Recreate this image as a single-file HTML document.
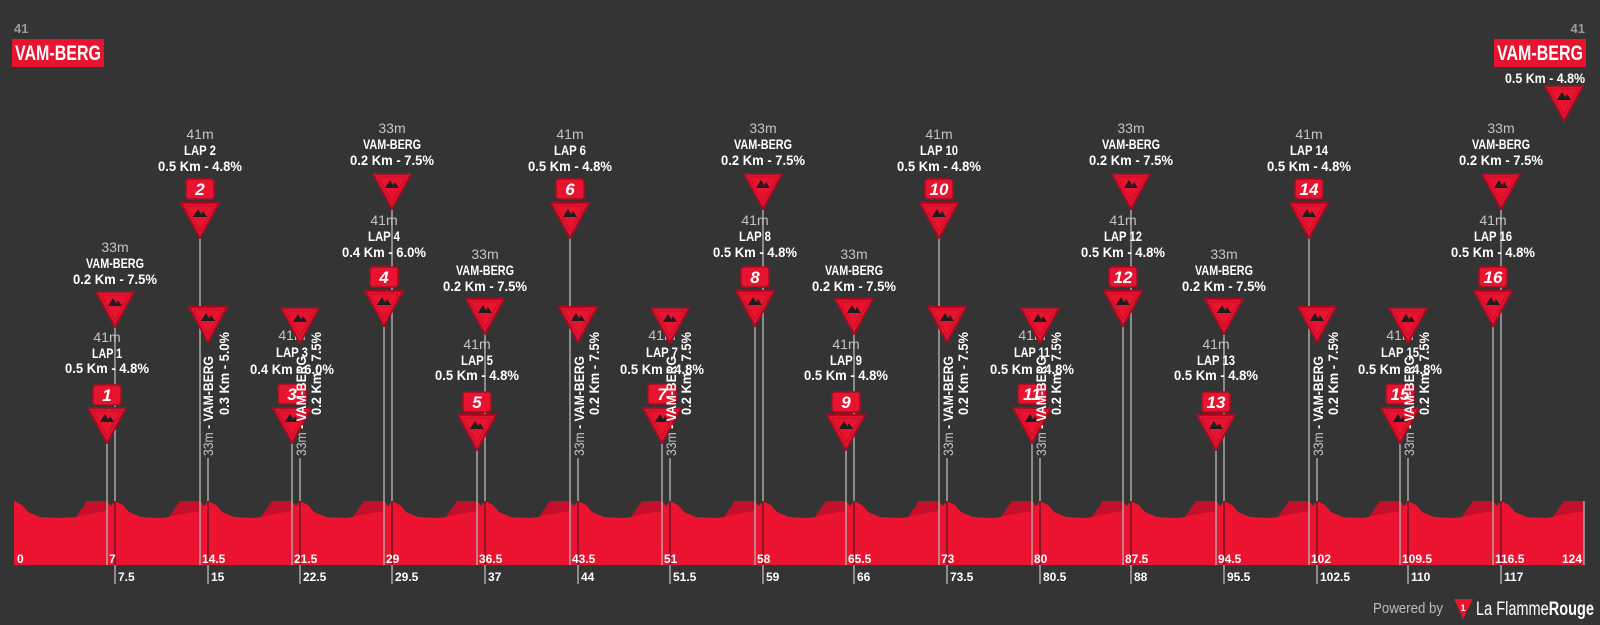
<!DOCTYPE html>
<html><head><meta charset="utf-8"><style>
html,body{margin:0;padding:0;background:#343434;width:1600px;height:625px;overflow:hidden}
svg{display:block}
text{font-family:"Liberation Sans Narrow","Liberation Sans",sans-serif}
.w{fill:#fff;font-weight:bold;font-size:14px;text-anchor:middle}
.g{fill:#c4c4c4;font-size:14px;text-anchor:middle}
.r{fill:#fff;font-weight:bold;font-size:14px}
.rg{fill:#c4c4c4;font-weight:normal;font-size:14px}
.n{fill:#fff;font-weight:bold;font-style:italic;font-size:17px;text-anchor:middle}
.k{fill:#fff;font-weight:bold;font-size:12px}
.ln{stroke:#a8a8a8;stroke-width:1.5}
</style></head><body>
<svg width="1600" height="625" viewBox="0 0 1600 625" xmlns="http://www.w3.org/2000/svg">
<defs>
<g id="m"><polygon points="-19,0 19,0 0,35" fill="#e8132f" stroke="#a80d22" stroke-width="2" stroke-linejoin="round"/><polygon points="-14,3 14,3 0,28" fill="none" stroke="#c40f28" stroke-width="1"/><polygon points="-7,14 -2,6 3,14" fill="#1e1e1e"/><polygon points="0,14 3,8 7,14" fill="#1e1e1e"/></g>
<g id="b"><rect x="-14" y="0" width="28" height="20" rx="3" fill="#e8132f" stroke="#a80d22" stroke-width="1.5"/></g>
</defs>

<g class="ln">
<line x1="115" y1="327" x2="115" y2="501"/><line x1="107" y1="443" x2="107" y2="501"/>
<line x1="200" y1="238" x2="200" y2="501"/><line x1="208" y1="458" x2="208" y2="501"/>
<line x1="292" y1="443" x2="292" y2="501"/><line x1="300" y1="458" x2="300" y2="501"/>
<line x1="392" y1="210" x2="392" y2="501"/><line x1="384" y1="327" x2="384" y2="501"/>
<line x1="485" y1="334" x2="485" y2="501"/><line x1="477" y1="450" x2="477" y2="501"/>
<line x1="570" y1="238" x2="570" y2="501"/><line x1="578" y1="458" x2="578" y2="501"/>
<line x1="662" y1="443" x2="662" y2="501"/><line x1="670" y1="458" x2="670" y2="501"/>
<line x1="763" y1="210" x2="763" y2="501"/><line x1="755" y1="327" x2="755" y2="501"/>
<line x1="854" y1="334" x2="854" y2="501"/><line x1="846" y1="450" x2="846" y2="501"/>
<line x1="939" y1="238" x2="939" y2="501"/><line x1="947" y1="458" x2="947" y2="501"/>
<line x1="1032" y1="443" x2="1032" y2="501"/><line x1="1040" y1="458" x2="1040" y2="501"/>
<line x1="1131" y1="210" x2="1131" y2="501"/><line x1="1123" y1="327" x2="1123" y2="501"/>
<line x1="1224" y1="334" x2="1224" y2="501"/><line x1="1216" y1="450" x2="1216" y2="501"/>
<line x1="1309" y1="238" x2="1309" y2="501"/><line x1="1317" y1="458" x2="1317" y2="501"/>
<line x1="1400" y1="443" x2="1400" y2="501"/><line x1="1408" y1="458" x2="1408" y2="501"/>
<line x1="1501" y1="210" x2="1501" y2="501"/><line x1="1493" y1="327" x2="1493" y2="501"/>
</g>

<path fill="#ec1330" d="M14,565 L14,501 22,505 28,512 40,517 59,518 76,517 87,501 107,501 111,506
115,501 123,505 129,512 141,517 160,518 169,517 180,501 200,501 204,506
208,501 216,505 222,512 234,517 253,518 261,517 272,501 292,501 296,506
300,501 308,505 314,512 326,517 345,518 353,517 364,501 384,501 388,506
392,501 400,505 406,512 418,517 437,518 446,517 457,501 477,501 481,506
485,501 493,505 499,512 511,517 530,518 539,517 550,501 570,501 574,506
578,501 586,505 592,512 604,517 623,518 631,517 642,501 662,501 666,506
670,501 678,505 684,512 696,517 715,518 724,517 735,501 755,501 759,506
763,501 771,505 777,512 789,517 808,518 815,517 826,501 846,501 850,506
854,501 862,505 868,512 880,517 899,518 908,517 919,501 939,501 943,506
947,501 955,505 961,512 973,517 992,518 1001,517 1012,501 1032,501 1036,506
1040,501 1048,505 1054,512 1066,517 1085,518 1092,517 1103,501 1123,501 1127,506
1131,501 1139,505 1145,512 1157,517 1176,518 1185,517 1196,501 1216,501 1220,506
1224,501 1232,505 1238,512 1250,517 1269,518 1278,517 1289,501 1309,501 1313,506
1317,501 1325,505 1331,512 1343,517 1362,518 1369,517 1380,501 1400,501 1404,506
1408,501 1416,505 1422,512 1434,517 1453,518 1462,517 1473,501 1493,501 1497,506
1501,501 1509,505 1515,512 1527,517 1546,518 1553,517 1564,501 1584,501 1584,565 Z"/>
<path fill="#c30f29" d="M76,517 87,501 107,501 107,511 83,515Z M169,517 180,501 200,501 200,511 176,515Z M261,517 272,501 292,501 292,511 268,515Z M353,517 364,501 384,501 384,511 360,515Z M446,517 457,501 477,501 477,511 453,515Z M539,517 550,501 570,501 570,511 546,515Z M631,517 642,501 662,501 662,511 638,515Z M724,517 735,501 755,501 755,511 731,515Z M815,517 826,501 846,501 846,511 822,515Z M908,517 919,501 939,501 939,511 915,515Z M1001,517 1012,501 1032,501 1032,511 1008,515Z M1092,517 1103,501 1123,501 1123,511 1099,515Z M1185,517 1196,501 1216,501 1216,511 1192,515Z M1278,517 1289,501 1309,501 1309,511 1285,515Z M1369,517 1380,501 1400,501 1400,511 1376,515Z M1462,517 1473,501 1493,501 1493,511 1469,515Z M1553,517 1564,501 1584,501 1584,511 1560,515Z"/>
<g stroke="#b9a3a6" stroke-width="1.5">
<line x1="107" y1="501" x2="107" y2="565"/><line x1="200" y1="501" x2="200" y2="565"/><line x1="292" y1="501" x2="292" y2="565"/><line x1="384" y1="501" x2="384" y2="565"/><line x1="477" y1="501" x2="477" y2="565"/><line x1="570" y1="501" x2="570" y2="565"/><line x1="662" y1="501" x2="662" y2="565"/><line x1="755" y1="501" x2="755" y2="565"/><line x1="846" y1="501" x2="846" y2="565"/><line x1="939" y1="501" x2="939" y2="565"/><line x1="1032" y1="501" x2="1032" y2="565"/><line x1="1123" y1="501" x2="1123" y2="565"/><line x1="1216" y1="501" x2="1216" y2="565"/><line x1="1309" y1="501" x2="1309" y2="565"/><line x1="1400" y1="501" x2="1400" y2="565"/><line x1="1493" y1="501" x2="1493" y2="565"/><line x1="1584" y1="501" x2="1584" y2="565"/>
</g>
<g stroke="#6e1522" stroke-width="1.5">
<line x1="115" y1="501" x2="115" y2="565"/><line x1="208" y1="501" x2="208" y2="565"/><line x1="300" y1="501" x2="300" y2="565"/><line x1="392" y1="501" x2="392" y2="565"/><line x1="485" y1="501" x2="485" y2="565"/><line x1="578" y1="501" x2="578" y2="565"/><line x1="670" y1="501" x2="670" y2="565"/><line x1="763" y1="501" x2="763" y2="565"/><line x1="854" y1="501" x2="854" y2="565"/><line x1="947" y1="501" x2="947" y2="565"/><line x1="1040" y1="501" x2="1040" y2="565"/><line x1="1131" y1="501" x2="1131" y2="565"/><line x1="1224" y1="501" x2="1224" y2="565"/><line x1="1317" y1="501" x2="1317" y2="565"/><line x1="1408" y1="501" x2="1408" y2="565"/><line x1="1501" y1="501" x2="1501" y2="565"/>
</g>
<g stroke="#a8a8a8" stroke-width="1.5">
<line x1="115" y1="565" x2="115" y2="584"/><line x1="208" y1="565" x2="208" y2="584"/><line x1="300" y1="565" x2="300" y2="584"/><line x1="392" y1="565" x2="392" y2="584"/><line x1="485" y1="565" x2="485" y2="584"/><line x1="578" y1="565" x2="578" y2="584"/><line x1="670" y1="565" x2="670" y2="584"/><line x1="763" y1="565" x2="763" y2="584"/><line x1="854" y1="565" x2="854" y2="584"/><line x1="947" y1="565" x2="947" y2="584"/><line x1="1040" y1="565" x2="1040" y2="584"/><line x1="1131" y1="565" x2="1131" y2="584"/><line x1="1224" y1="565" x2="1224" y2="584"/><line x1="1317" y1="565" x2="1317" y2="584"/><line x1="1408" y1="565" x2="1408" y2="584"/><line x1="1501" y1="565" x2="1501" y2="584"/>
</g>

<g class="k">
<text x="17" y="563">0</text><text x="109" y="563">7</text><text x="202" y="563">14.5</text><text x="294" y="563">21.5</text><text x="386" y="563">29</text><text x="479" y="563">36.5</text><text x="572" y="563">43.5</text><text x="664" y="563">51</text><text x="757" y="563">58</text><text x="848" y="563">65.5</text><text x="941" y="563">73</text><text x="1034" y="563">80</text><text x="1125" y="563">87.5</text><text x="1218" y="563">94.5</text><text x="1311" y="563">102</text><text x="1402" y="563">109.5</text><text x="1495" y="563">116.5</text><text x="1582" y="563" text-anchor="end">124</text>
<text x="118" y="581">7.5</text><text x="211" y="581">15</text><text x="303" y="581">22.5</text><text x="395" y="581">29.5</text><text x="488" y="581">37</text><text x="581" y="581">44</text><text x="673" y="581">51.5</text><text x="766" y="581">59</text><text x="857" y="581">66</text><text x="950" y="581">73.5</text><text x="1043" y="581">80.5</text><text x="1134" y="581">88</text><text x="1227" y="581">95.5</text><text x="1320" y="581">102.5</text><text x="1411" y="581">110</text><text x="1504" y="581">117</text>
</g>

<!-- Lap 1 -->
<text class="g" x="115" y="252">33m</text><text class="w" x="115" y="268" textLength="58" lengthAdjust="spacingAndGlyphs">VAM-BERG</text><text class="w" x="115" y="284" textLength="84" lengthAdjust="spacingAndGlyphs">0.2 Km - 7.5%</text><use href="#m" x="115" y="292"/>
<text class="g" x="107" y="342">41m</text><text class="w" x="107" y="358" textLength="30" lengthAdjust="spacingAndGlyphs">LAP 1</text><text class="w" x="107" y="373" textLength="84" lengthAdjust="spacingAndGlyphs">0.5 Km - 4.8%</text><use href="#b" x="107" y="385"/><text class="n" x="107" y="401">1</text><use href="#m" x="107" y="408"/>

<!-- Lap 2 -->
<text class="g" x="200" y="139">41m</text><text class="w" x="200" y="155" textLength="32" lengthAdjust="spacingAndGlyphs">LAP 2</text><text class="w" x="200" y="171" textLength="84" lengthAdjust="spacingAndGlyphs">0.5 Km - 4.8%</text><use href="#b" x="200" y="179"/><text class="n" x="200" y="195">2</text><use href="#m" x="200" y="203"/>
<use href="#m" x="208" y="307"/>
<text class="r" transform="translate(213,456) rotate(-90)" textLength="100" lengthAdjust="spacingAndGlyphs"><tspan class="rg">33m</tspan> - VAM-BERG</text>
<text class="r" transform="translate(229,332) rotate(-90)" text-anchor="end" textLength="83" lengthAdjust="spacingAndGlyphs">0.3 Km - 5.0%</text>

<!-- Lap 3 -->
<text class="g" x="292" y="340">41m</text><text class="w" x="292" y="357" textLength="32" lengthAdjust="spacingAndGlyphs">LAP 3</text><text class="w" x="292" y="374" textLength="84" lengthAdjust="spacingAndGlyphs">0.4 Km - 6.0%</text><use href="#b" x="292" y="384"/><text class="n" x="292" y="400">3</text><use href="#m" x="292" y="408"/>
<use href="#m" x="300" y="308"/>
<text class="r" transform="translate(306,456) rotate(-90)" textLength="100" lengthAdjust="spacingAndGlyphs"><tspan class="rg">33m</tspan> - VAM-BERG</text>
<text class="r" transform="translate(321,332) rotate(-90)" text-anchor="end" textLength="83" lengthAdjust="spacingAndGlyphs">0.2 Km - 7.5%</text>

<!-- Lap 4 -->
<text class="g" x="392" y="133">33m</text><text class="w" x="392" y="149" textLength="58" lengthAdjust="spacingAndGlyphs">VAM-BERG</text><text class="w" x="392" y="165" textLength="84" lengthAdjust="spacingAndGlyphs">0.2 Km - 7.5%</text><use href="#m" x="392" y="174"/>
<text class="g" x="384" y="225">41m</text><text class="w" x="384" y="241" textLength="32" lengthAdjust="spacingAndGlyphs">LAP 4</text><text class="w" x="384" y="257" textLength="84" lengthAdjust="spacingAndGlyphs">0.4 Km - 6.0%</text><use href="#b" x="384" y="267"/><text class="n" x="384" y="283">4</text><use href="#m" x="384" y="291"/>

<!-- Lap 5 -->
<text class="g" x="485" y="259">33m</text><text class="w" x="485" y="275" textLength="58" lengthAdjust="spacingAndGlyphs">VAM-BERG</text><text class="w" x="485" y="291" textLength="84" lengthAdjust="spacingAndGlyphs">0.2 Km - 7.5%</text><use href="#m" x="485" y="299"/>
<text class="g" x="477" y="349">41m</text><text class="w" x="477" y="365" textLength="32" lengthAdjust="spacingAndGlyphs">LAP 5</text><text class="w" x="477" y="380" textLength="84" lengthAdjust="spacingAndGlyphs">0.5 Km - 4.8%</text><use href="#b" x="477" y="392"/><text class="n" x="477" y="408">5</text><use href="#m" x="477" y="415"/>

<!-- Lap 6 -->
<text class="g" x="570" y="139">41m</text><text class="w" x="570" y="155" textLength="32" lengthAdjust="spacingAndGlyphs">LAP 6</text><text class="w" x="570" y="171" textLength="84" lengthAdjust="spacingAndGlyphs">0.5 Km - 4.8%</text><use href="#b" x="570" y="179"/><text class="n" x="570" y="195">6</text><use href="#m" x="570" y="203"/>
<use href="#m" x="578" y="307"/>
<text class="r" transform="translate(584,456) rotate(-90)" textLength="100" lengthAdjust="spacingAndGlyphs"><tspan class="rg">33m</tspan> - VAM-BERG</text>
<text class="r" transform="translate(599,332) rotate(-90)" text-anchor="end" textLength="83" lengthAdjust="spacingAndGlyphs">0.2 Km - 7.5%</text>

<!-- Lap 7 -->
<text class="g" x="662" y="340">41m</text><text class="w" x="662" y="357" textLength="32" lengthAdjust="spacingAndGlyphs">LAP 7</text><text class="w" x="662" y="374" textLength="84" lengthAdjust="spacingAndGlyphs">0.5 Km - 4.8%</text><use href="#b" x="662" y="384"/><text class="n" x="662" y="400">7</text><use href="#m" x="662" y="408"/>
<use href="#m" x="670" y="308"/>
<text class="r" transform="translate(676,456) rotate(-90)" textLength="100" lengthAdjust="spacingAndGlyphs"><tspan class="rg">33m</tspan> - VAM-BERG</text>
<text class="r" transform="translate(691,332) rotate(-90)" text-anchor="end" textLength="83" lengthAdjust="spacingAndGlyphs">0.2 Km - 7.5%</text>

<!-- Lap 8 -->
<text class="g" x="763" y="133">33m</text><text class="w" x="763" y="149" textLength="58" lengthAdjust="spacingAndGlyphs">VAM-BERG</text><text class="w" x="763" y="165" textLength="84" lengthAdjust="spacingAndGlyphs">0.2 Km - 7.5%</text><use href="#m" x="763" y="174"/>
<text class="g" x="755" y="225">41m</text><text class="w" x="755" y="241" textLength="32" lengthAdjust="spacingAndGlyphs">LAP 8</text><text class="w" x="755" y="257" textLength="84" lengthAdjust="spacingAndGlyphs">0.5 Km - 4.8%</text><use href="#b" x="755" y="267"/><text class="n" x="755" y="283">8</text><use href="#m" x="755" y="291"/>

<!-- Lap 9 -->
<text class="g" x="854" y="259">33m</text><text class="w" x="854" y="275" textLength="58" lengthAdjust="spacingAndGlyphs">VAM-BERG</text><text class="w" x="854" y="291" textLength="84" lengthAdjust="spacingAndGlyphs">0.2 Km - 7.5%</text><use href="#m" x="854" y="299"/>
<text class="g" x="846" y="349">41m</text><text class="w" x="846" y="365" textLength="32" lengthAdjust="spacingAndGlyphs">LAP 9</text><text class="w" x="846" y="380" textLength="84" lengthAdjust="spacingAndGlyphs">0.5 Km - 4.8%</text><use href="#b" x="846" y="392"/><text class="n" x="846" y="408">9</text><use href="#m" x="846" y="415"/>

<!-- Lap 10 -->
<text class="g" x="939" y="139">41m</text><text class="w" x="939" y="155" textLength="38" lengthAdjust="spacingAndGlyphs">LAP 10</text><text class="w" x="939" y="171" textLength="84" lengthAdjust="spacingAndGlyphs">0.5 Km - 4.8%</text><use href="#b" x="939" y="179"/><text class="n" x="939" y="195">10</text><use href="#m" x="939" y="203"/>
<use href="#m" x="947" y="307"/>
<text class="r" transform="translate(953,456) rotate(-90)" textLength="100" lengthAdjust="spacingAndGlyphs"><tspan class="rg">33m</tspan> - VAM-BERG</text>
<text class="r" transform="translate(968,332) rotate(-90)" text-anchor="end" textLength="83" lengthAdjust="spacingAndGlyphs">0.2 Km - 7.5%</text>

<!-- Lap 11 -->
<text class="g" x="1032" y="340">41m</text><text class="w" x="1032" y="357" textLength="36" lengthAdjust="spacingAndGlyphs">LAP 11</text><text class="w" x="1032" y="374" textLength="84" lengthAdjust="spacingAndGlyphs">0.5 Km - 4.8%</text><use href="#b" x="1032" y="384"/><text class="n" x="1032" y="400">11</text><use href="#m" x="1032" y="408"/>
<use href="#m" x="1040" y="308"/>
<text class="r" transform="translate(1046,456) rotate(-90)" textLength="100" lengthAdjust="spacingAndGlyphs"><tspan class="rg">33m</tspan> - VAM-BERG</text>
<text class="r" transform="translate(1061,332) rotate(-90)" text-anchor="end" textLength="83" lengthAdjust="spacingAndGlyphs">0.2 Km - 7.5%</text>

<!-- Lap 12 -->
<text class="g" x="1131" y="133">33m</text><text class="w" x="1131" y="149" textLength="58" lengthAdjust="spacingAndGlyphs">VAM-BERG</text><text class="w" x="1131" y="165" textLength="84" lengthAdjust="spacingAndGlyphs">0.2 Km - 7.5%</text><use href="#m" x="1131" y="174"/>
<text class="g" x="1123" y="225">41m</text><text class="w" x="1123" y="241" textLength="38" lengthAdjust="spacingAndGlyphs">LAP 12</text><text class="w" x="1123" y="257" textLength="84" lengthAdjust="spacingAndGlyphs">0.5 Km - 4.8%</text><use href="#b" x="1123" y="267"/><text class="n" x="1123" y="283">12</text><use href="#m" x="1123" y="291"/>

<!-- Lap 13 -->
<text class="g" x="1224" y="259">33m</text><text class="w" x="1224" y="275" textLength="58" lengthAdjust="spacingAndGlyphs">VAM-BERG</text><text class="w" x="1224" y="291" textLength="84" lengthAdjust="spacingAndGlyphs">0.2 Km - 7.5%</text><use href="#m" x="1224" y="299"/>
<text class="g" x="1216" y="349">41m</text><text class="w" x="1216" y="365" textLength="38" lengthAdjust="spacingAndGlyphs">LAP 13</text><text class="w" x="1216" y="380" textLength="84" lengthAdjust="spacingAndGlyphs">0.5 Km - 4.8%</text><use href="#b" x="1216" y="392"/><text class="n" x="1216" y="408">13</text><use href="#m" x="1216" y="415"/>

<!-- Lap 14 -->
<text class="g" x="1309" y="139">41m</text><text class="w" x="1309" y="155" textLength="38" lengthAdjust="spacingAndGlyphs">LAP 14</text><text class="w" x="1309" y="171" textLength="84" lengthAdjust="spacingAndGlyphs">0.5 Km - 4.8%</text><use href="#b" x="1309" y="179"/><text class="n" x="1309" y="195">14</text><use href="#m" x="1309" y="203"/>
<use href="#m" x="1317" y="307"/>
<text class="r" transform="translate(1323,456) rotate(-90)" textLength="100" lengthAdjust="spacingAndGlyphs"><tspan class="rg">33m</tspan> - VAM-BERG</text>
<text class="r" transform="translate(1338,332) rotate(-90)" text-anchor="end" textLength="83" lengthAdjust="spacingAndGlyphs">0.2 Km - 7.5%</text>

<!-- Lap 15 -->
<text class="g" x="1400" y="340">41m</text><text class="w" x="1400" y="357" textLength="38" lengthAdjust="spacingAndGlyphs">LAP 15</text><text class="w" x="1400" y="374" textLength="84" lengthAdjust="spacingAndGlyphs">0.5 Km - 4.8%</text><use href="#b" x="1400" y="384"/><text class="n" x="1400" y="400">15</text><use href="#m" x="1400" y="408"/>
<use href="#m" x="1408" y="308"/>
<text class="r" transform="translate(1414,456) rotate(-90)" textLength="100" lengthAdjust="spacingAndGlyphs"><tspan class="rg">33m</tspan> - VAM-BERG</text>
<text class="r" transform="translate(1429,332) rotate(-90)" text-anchor="end" textLength="83" lengthAdjust="spacingAndGlyphs">0.2 Km - 7.5%</text>

<!-- Lap 16 -->
<text class="g" x="1501" y="133">33m</text><text class="w" x="1501" y="149" textLength="58" lengthAdjust="spacingAndGlyphs">VAM-BERG</text><text class="w" x="1501" y="165" textLength="84" lengthAdjust="spacingAndGlyphs">0.2 Km - 7.5%</text><use href="#m" x="1501" y="174"/>
<text class="g" x="1493" y="225">41m</text><text class="w" x="1493" y="241" textLength="38" lengthAdjust="spacingAndGlyphs">LAP 16</text><text class="w" x="1493" y="257" textLength="84" lengthAdjust="spacingAndGlyphs">0.5 Km - 4.8%</text><use href="#b" x="1493" y="267"/><text class="n" x="1493" y="283">16</text><use href="#m" x="1493" y="291"/>

<!-- start / finish -->
<text x="14" y="33" fill="#9a9a9a" font-weight="bold" font-size="13">41</text>
<rect x="12" y="39" width="92" height="28" fill="#e8132f"/>
<text x="58" y="60" fill="#fff" font-weight="bold" font-size="21" text-anchor="middle" textLength="86" lengthAdjust="spacingAndGlyphs">VAM-BERG</text>
<text x="1585" y="33" fill="#9a9a9a" font-weight="bold" font-size="13" text-anchor="end">41</text>
<rect x="1494" y="39" width="92" height="28" fill="#e8132f"/>
<text x="1540" y="60" fill="#fff" font-weight="bold" font-size="21" text-anchor="middle" textLength="86" lengthAdjust="spacingAndGlyphs">VAM-BERG</text>
<text x="1585" y="83" fill="#fff" font-weight="bold" font-size="14" text-anchor="end" textLength="80" lengthAdjust="spacingAndGlyphs">0.5 Km - 4.8%</text>
<use href="#m" x="1564" y="86"/>

<!-- footer -->
<text x="1373" y="613" fill="#bdbdbd" font-size="15" textLength="70" lengthAdjust="spacingAndGlyphs" style="font-family:'Liberation Sans',sans-serif">Powered by</text>
<polygon points="1454,599 1473,599 1463,619" fill="#e8132f"/>
<text x="1463" y="611" fill="#fff" font-size="9" font-weight="bold" text-anchor="middle">1</text>
<text x="1476" y="615" fill="#fff" font-size="19" textLength="118" lengthAdjust="spacingAndGlyphs" style="font-family:'Liberation Sans',sans-serif">La Flamme<tspan font-weight="bold">Rouge</tspan></text>
</svg>
</body></html>
